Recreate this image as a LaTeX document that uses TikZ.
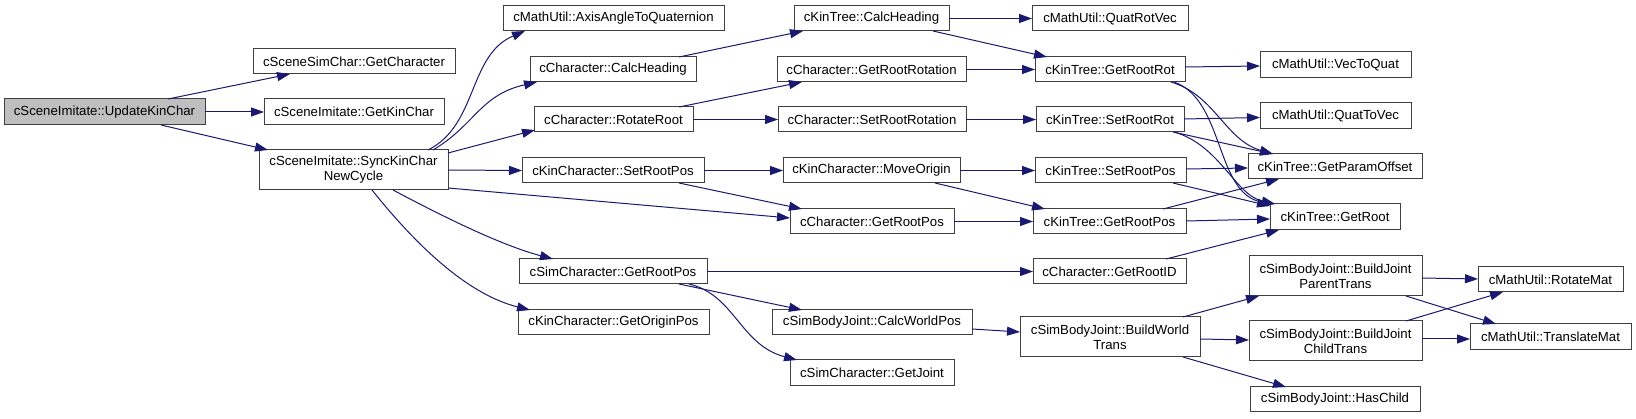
\documentclass[tikz,border=0pt]{standalone}
\usepackage{fontspec}
\setmainfont{Liberation Sans}
\usetikzlibrary{arrows.meta,calc}
\definecolor{edgec}{HTML}{191970}
\definecolor{boxc}{HTML}{404040}
\definecolor{curc}{HTML}{BFBFBF}
\tikzset{
  fn/.style={draw=boxc, fill=white, line width=1pt, inner sep=0pt, outer sep=0pt,
    align=center, font=\fontsize{13.2}{15}\selectfont},
  cur/.style={fn, fill=curc},
  call/.style={draw=edgec, line width=1pt, -{Triangle[length=13pt,width=9pt]}},
}
\newcommand\fnnode[7][fn]{\node[#1, minimum width={(#5-#3)*1pt}, minimum height={(#6-#4)*1pt}] (#2) at ({(#3+#5)/2},{(#4+#6)/2}) {#7};}
\begin{document}
\begin{tikzpicture}[x=1pt,y=-1pt]
\useasboundingbox[fill=white] (0,0) rectangle (1636,419);
% nodes
\fnnode[cur]{A}{4}{99}{205}{125}{cSceneImitate::UpdateKinChar}
\fnnode{B}{253}{49}{455}{74}{cSceneSimChar::GetCharacter}
\fnnode{C}{264}{99}{444}{125}{cSceneImitate::GetKinChar}
\fnnode{D}{259}{150}{448}{190}{cSceneImitate::SyncKinChar\\NewCycle}
\fnnode{E}{503}{6}{724}{31}{cMathUtil::AxisAngleToQuaternion}
\fnnode{F}{530}{57}{696}{82}{cCharacter::CalcHeading}
\fnnode{G}{534}{107}{693}{132}{cCharacter::RotateRoot}
\fnnode{H}{522}{158}{704}{183}{cKinCharacter::SetRootPos}
\fnnode{I}{519}{259}{707}{284}{cSimCharacter::GetRootPos}
\fnnode{J}{518}{310}{709}{335}{cKinCharacter::GetOriginPos}
\fnnode{K}{794}{6}{949}{31}{cKinTree::CalcHeading}
\fnnode{L}{777}{57}{966}{82}{cCharacter::GetRootRotation}
\fnnode{M}{778}{107}{966}{132}{cCharacter::SetRootRotation}
\fnnode{N}{783}{158}{960}{183}{cKinCharacter::MoveOrigin}
\fnnode{O}{790}{209}{954}{234}{cCharacter::GetRootPos}
\fnnode{P}{772}{310}{972}{335}{cSimBodyJoint::CalcWorldPos}
\fnnode{Q}{790}{360}{954}{386}{cSimCharacter::GetJoint}
\fnnode{R}{1032}{6}{1188}{31}{cMathUtil::QuatRotVec}
\fnnode{S}{1035}{57}{1185}{82}{cKinTree::GetRootRot}
\fnnode{T}{1036}{107}{1184}{132}{cKinTree::SetRootRot}
\fnnode{U}{1035}{158}{1186}{183}{cKinTree::SetRootPos}
\fnnode{V}{1033}{209}{1186}{234}{cKinTree::GetRootPos}
\fnnode{W}{1033}{259}{1186}{284}{cCharacter::GetRootID}
\fnnode{X}{1020}{317}{1200}{357}{cSimBodyJoint::BuildWorld\\Trans}
\fnnode{Y}{1260}{52}{1411}{78}{cMathUtil::VecToQuat}
\fnnode{Z}{1260}{103}{1411}{129}{cMathUtil::QuatToVec}
\fnnode{AA}{1248}{154}{1422}{179}{cKinTree::GetParamOffset}
\fnnode{AB}{1270}{204}{1400}{230}{cKinTree::GetRoot}
\fnnode{AC}{1249}{256}{1422}{296}{cSimBodyJoint::BuildJoint\\ParentTrans}
\fnnode{AD}{1249}{321}{1422}{361}{cSimBodyJoint::BuildJoint\\ChildTrans}
\fnnode{AE}{1250}{387}{1420}{412}{cSimBodyJoint::HasChild}
\fnnode{AF}{1478}{267}{1623}{292}{cMathUtil::RotateMat}
\fnnode{AG}{1470}{324}{1631}{350}{cMathUtil::TranslateMat}
% connectors
\draw[call] ($(A.north west)+(164,0)$) -- ($(B.north west)+(37,25)$);
\draw[call] (A.east) -- (C.west);
\draw[call] ($(A.north west)+(157,26)$) -- ($(D.north west)+(9,0)$);
\draw[call] ($(D.north west)+(169,0)$) .. controls (478,125) and (468,55) .. ($(E.north west)+(22,25)$);
\draw[call] ($(D.north west)+(174,0)$) .. controls (475,125) and (480,95) .. ($(F.north west)+(7,25)$);
\draw[call] ($(D.north west)+(189,3)$) -- ($(G.north west)+(1,23)$);
\draw[call] (D.east) -- (H.west);
\draw[call] ($(D.north west)+(189,38)$) -- ($(O.north west)+(0,9)$);
\draw[call] ($(D.north west)+(134,40)$) .. controls (440,215) and (500,245) .. ($(I.north west)+(34,0)$);
\draw[call] ($(D.north west)+(113,40)$) .. controls (420,250) and (470,295) .. ($(J.north west)+(12,0)$);
\draw[call] ($(F.north west)+(149,0)$) -- ($(K.north west)+(9,25)$);
\draw[call] ($(G.north west)+(145,0)$) -- ($(L.north west)+(25,25)$);
\draw[call] (G.east) -- (M.west);
\draw[call] (H.east) -- (N.west);
\draw[call] ($(H.north west)+(157,25)$) -- ($(O.north west)+(12,0)$);
\draw[call] (K.east) -- (R.west);
\draw[call] ($(K.north west)+(139,25)$) -- ($(S.north west)+(12,0)$);
\draw[call] (L.east) -- (S.west);
\draw[call] (M.east) -- (T.west);
\draw[call] (N.east) -- (U.west);
\draw[call] ($(N.north west)+(152,25)$) -- ($(V.north west)+(12,0)$);
\draw[call] (O.east) -- (V.west);
\draw[call] (I.east) -- (W.west);
\draw[call] ($(I.north west)+(160,25)$) -- ($(P.north west)+(30,0)$);
\draw[call] ($(I.north west)+(170,25)$) .. controls (735,295) and (740,345) .. ($(Q.north west)+(7,0)$);
\draw[call] ($(P.north west)+(200,19)$) -- ($(X.north west)+(0,15)$);
\draw[call] ($(S.north west)+(150,10)$) -- ($(Y.north west)+(0,14)$);
\draw[call] ($(T.north west)+(148,12)$) -- ($(Z.north west)+(0,14.5)$);
\draw[call] ($(U.north west)+(151,11)$) -- ($(AA.north west)+(0,14)$);
\draw[call] ($(S.north west)+(136,25)$) .. controls (1215,95) and (1225,140) .. ($(AA.north west)+(25,0)$);
\draw[call] ($(S.north west)+(139,25)$) .. controls (1225,100) and (1215,195) .. ($(AB.north west)+(5,0)$);
\draw[call] ($(T.north west)+(137,25)$) -- ($(AA.north west)+(25,0)$);
\draw[call] ($(T.north west)+(138,25)$) .. controls (1220,145) and (1235,195) .. ($(AB.north west)+(5,0)$);
\draw[call] ($(U.north west)+(138,25)$) -- ($(AB.north west)+(0,2)$);
\draw[call] ($(V.north west)+(130,0)$) -- ($(AA.north west)+(31,25)$);
\draw[call] ($(V.north west)+(153,12)$) -- ($(AB.north west)+(0,15)$);
\draw[call] ($(W.north west)+(133,0)$) -- ($(AB.north west)+(9,26)$);
\draw[call] ($(X.north west)+(163,0)$) -- ($(AC.north west)+(10,40)$);
\draw[call] ($(X.north west)+(180,22)$) -- ($(AD.north west)+(0,19)$);
\draw[call] ($(X.north west)+(163,40)$) -- ($(AE.north west)+(36,0)$);
\draw[call] ($(AC.north west)+(173,22)$) -- ($(AF.north west)+(0,12)$);
\draw[call] ($(AC.north west)+(157,40)$) -- ($(AG.north west)+(26,0)$);
\draw[call] ($(AD.north west)+(157,0)$) -- ($(AF.north west)+(25,25)$);
\draw[call] ($(AD.north west)+(173,18)$) -- ($(AG.north west)+(0,15)$);
\end{tikzpicture}
\end{document}
